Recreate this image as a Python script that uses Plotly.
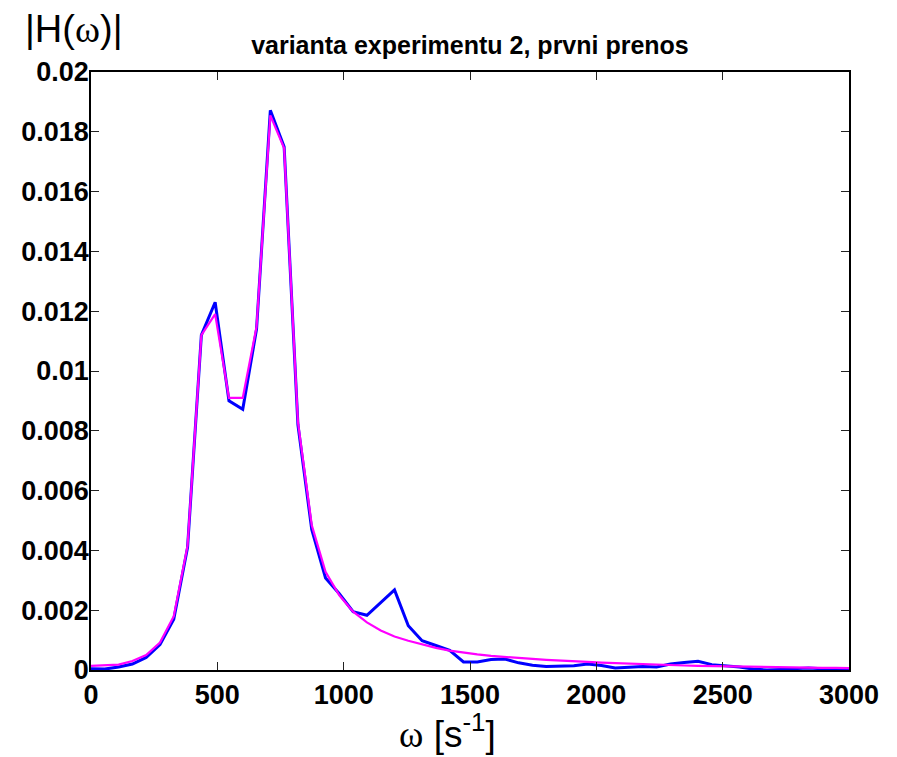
import plotly.graph_objects as go

# frequency grid (rad/s), step
omega_step = 54.6
n_points = 56
omega = [k * omega_step for k in range(n_points)]

# measured |H(w)| (blue)
h_measured = [
    0.00004, 0.00003, 0.00010, 0.00020, 0.00042, 0.00085, 0.00170, 0.00410,
    0.01120, 0.01230, 0.00900, 0.00872, 0.01140, 0.01872, 0.01750, 0.00820,
    0.00470, 0.00308, 0.00255, 0.00195, 0.00183, 0.00225, 0.00268, 0.00148,
    0.00098, 0.00082, 0.00066, 0.00027, 0.00027, 0.00035, 0.00037, 0.00024,
    0.00016, 0.00012, 0.00013, 0.00014, 0.00020, 0.00015, 0.00007, 0.00010,
    0.00012, 0.00010, 0.00020, 0.00025, 0.00029, 0.00018, 0.00014, 0.00010,
    0.00003, 0.00000, 0.00002, 0.00005, 0.00007, 0.00004, 0.00002, 0.00001,
]

# fitted |H(w)| (magenta)
h_fitted = [
    0.00014, 0.00015, 0.00018, 0.00030, 0.00050, 0.00092, 0.00180, 0.00416,
    0.01120, 0.01190, 0.00910, 0.00910, 0.01148, 0.01855, 0.01745, 0.00830,
    0.00485, 0.00328, 0.00250, 0.00195, 0.00159, 0.00132, 0.00112, 0.00098,
    0.00085, 0.00074, 0.00065, 0.00058, 0.00052, 0.00047, 0.00043, 0.00040,
    0.00037, 0.00034, 0.00031, 0.00029, 0.00027, 0.00025, 0.00023, 0.00021,
    0.00019, 0.00018, 0.00016, 0.00015, 0.00014, 0.00013, 0.00012, 0.00011,
    0.00010, 0.00009, 0.00009, 0.00008, 0.00008, 0.00007, 0.00007, 0.00006,
]

x_ticks = [0, 500, 1000, 1500, 2000, 2500, 3000]
x_tick_labels = ["0", "500", "1000", "1500", "2000", "2500", "3000"]
y_ticks = [0, 0.002, 0.004, 0.006, 0.008, 0.01, 0.012, 0.014, 0.016, 0.018, 0.02]
y_tick_labels = ["0", "0.002", "0.004", "0.006", "0.008", "0.01", "0.012",
                 "0.014", "0.016", "0.018", "0.02"]

title_text = "varianta experimentu 2, prvni prenos"

fig = go.Figure()
fig.add_trace(go.Scatter(x=omega, y=h_measured, mode="lines",
                         line=dict(color="#0000ff", width=3), showlegend=False))
fig.add_trace(go.Scatter(x=omega, y=h_fitted, mode="lines",
                         line=dict(color="#ff00ff", width=2.2), showlegend=False))

axis_common = dict(
    showgrid=False, zeroline=False, showline=True, linecolor="black", linewidth=1.5,
    mirror="ticks", ticks="inside", ticklen=8, tickwidth=1.2, tickcolor="#222",
    tickfont=dict(family="Liberation Sans, Arial", size=27, color="black", weight="bold"),
)

fig.update_xaxes(range=[0, 3000], tickvals=x_ticks, ticktext=x_tick_labels, **axis_common)
fig.update_yaxes(range=[0, 0.02], tickvals=y_ticks, ticktext=y_tick_labels,
                 ticklabelstandoff=-5, **axis_common)

fig.update_layout(
    width=897, height=757,
    margin=dict(l=83, r=56, t=64, b=95),
    paper_bgcolor="white", plot_bgcolor="white",
    title=dict(text="<b>" + title_text + "</b>", x=0.515, xanchor="center",
               y=0.951, yanchor="middle",
               font=dict(family="Liberation Sans, Arial", size=25, color="black")),
    annotations=[
        dict(text="|H(<span style='font-family:Liberation Serif'>ω</span>)|",
             xref="paper", yref="paper", x=-0.09, y=1.072, xanchor="left",
             yanchor="middle", showarrow=False,
             font=dict(family="Liberation Sans, Arial", size=38, color="black")),
        dict(text="<span style='font-family:Liberation Serif'>ω</span> [s<sup>-1</sup>]",
             xref="paper", yref="paper", x=0.47, y=-0.06, xanchor="center",
             yanchor="top", showarrow=False,
             font=dict(family="Liberation Sans, Arial", size=37, color="black")),
    ],
)

fig.write_html("out.html")
